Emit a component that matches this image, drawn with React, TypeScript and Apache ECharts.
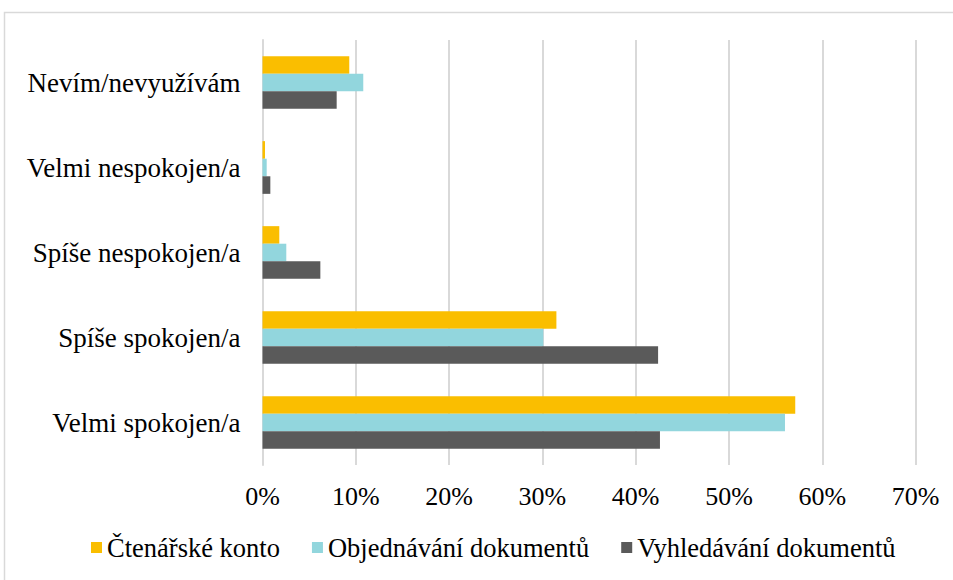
import React, { useEffect, useRef } from "react";
import * as echarts from "echarts";

const categories = [
  "Nevím/nevyužívám",
  "Velmi nespokojen/a",
  "Spíše nespokojen/a",
  "Spíše spokojen/a",
  "Velmi spokojen/a",
];
const seriesNames = ["Čtenářské konto", "Objednávání dokumentů", "Vyhledávání dokumentů"];
const ctenarskeKonto = [9.3, 0.27, 1.8, 31.5, 57.1];
const objednavani = [10.8, 0.45, 2.55, 30.1, 56.0];
const vyhledavani = [7.95, 0.84, 6.2, 42.4, 42.6];
const colors = ["#FABE00", "#92D6DD", "#5A5A5A"];
const xTicks = [0, 10, 20, 30, 40, 50, 60, 70];

export default function App() {
  const ref = useRef<HTMLDivElement>(null);
  useEffect(() => {
    if (!ref.current) return;
    const chart = echarts.init(ref.current, null, { renderer: "svg" });
    const font = "Times New Roman, Liberation Serif, serif";
    const data = [ctenarskeKonto, objednavani, vyhledavani];
    chart.setOption({
      animation: false,
      backgroundColor: "#ffffff",
      textStyle: { fontFamily: font },
      graphic: [
        {
          type: "rect",
          shape: { x: 4.5, y: 12.5, width: 960, height: 600 },
          style: { fill: "none", stroke: "#d9d9d9", lineWidth: 1.5 },
          silent: true,
        },
      ],
      grid: { left: 262.5, right: 37.4, top: 40, bottom: 115, containLabel: false },
      legend: {
        bottom: 14,
        left: 86,
        itemWidth: 11,
        itemHeight: 11,
        itemGap: 32,
        icon: "rect",
        textStyle: { fontFamily: font, fontSize: 26.5, color: "#000" },
        data: seriesNames,
      },
      xAxis: {
        type: "value",
        min: xTicks[0],
        max: xTicks[xTicks.length - 1],
        interval: 10,
        axisLabel: {
          formatter: (v: number) => `${v}%`,
          fontFamily: font,
          fontSize: 26,
          color: "#000",
          margin: 18,
        },
        axisLine: { show: false },
        axisTick: { show: false },
        splitLine: { show: true, lineStyle: { color: "#d9d9d9", width: 2 } },
      },
      yAxis: {
        type: "category",
        data: categories,
        inverse: true,
        axisLabel: { fontFamily: font, fontSize: 27, color: "#000", margin: 22 },
        axisLine: { show: true, lineStyle: { color: "#d9d9d9", width: 2 } },
        axisTick: { show: false },
        splitLine: { show: false },
      },
      series: seriesNames.map((name, i) => ({
        name,
        type: "bar",
        data: data[i],
        barGap: "0%",
        barCategoryGap: "38%",
        itemStyle: { color: colors[i] },
      })),
    });
    return () => chart.dispose();
  }, []);
  return (
    <div
      ref={ref}
      style={{ position: "fixed", left: 0, top: 0, width: 953, height: 580 }}
    />
  );
}
